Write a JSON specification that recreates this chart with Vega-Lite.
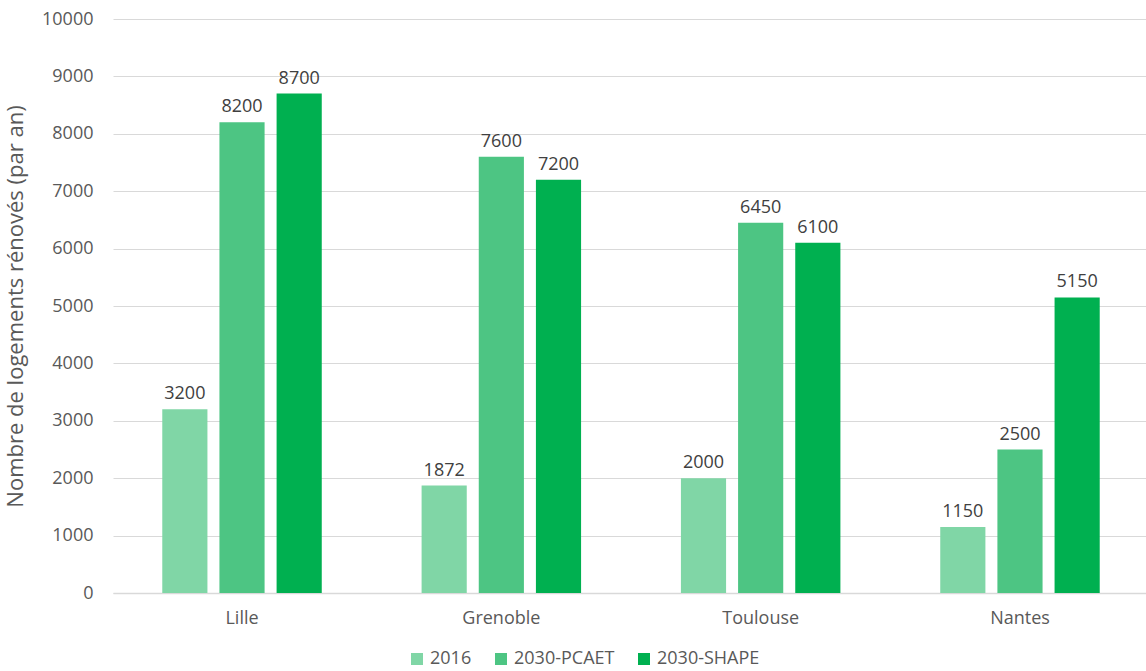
{
  "$schema": "https://vega.github.io/schema/vega-lite/v6.json",
  "autosize": "none",
  "padding": {"left": 113, "top": 19, "right": 0, "bottom": 78},
  "width": 1036,
  "height": 574,
  "background": "white",
  "config": {
    "font": "Open Sans",
    "view": {"stroke": null}
  },
  "data": {
    "values": [
      {"ville": "Lille", "serie": "2016", "valeur": 3200},
      {"ville": "Lille", "serie": "2030-PCAET", "valeur": 8200},
      {"ville": "Lille", "serie": "2030-SHAPE", "valeur": 8700},
      {"ville": "Grenoble", "serie": "2016", "valeur": 1872},
      {"ville": "Grenoble", "serie": "2030-PCAET", "valeur": 7600},
      {"ville": "Grenoble", "serie": "2030-SHAPE", "valeur": 7200},
      {"ville": "Toulouse", "serie": "2016", "valeur": 2000},
      {"ville": "Toulouse", "serie": "2030-PCAET", "valeur": 6450},
      {"ville": "Toulouse", "serie": "2030-SHAPE", "valeur": 6100},
      {"ville": "Nantes", "serie": "2016", "valeur": 1150},
      {"ville": "Nantes", "serie": "2030-PCAET", "valeur": 2500},
      {"ville": "Nantes", "serie": "2030-SHAPE", "valeur": 5150}
    ]
  },
  "encoding": {
    "x": {
      "field": "ville", "type": "nominal", "sort": ["Lille", "Grenoble", "Toulouse", "Nantes"],
      "scale": {"paddingInner": 0.385, "paddingOuter": 0.19},
      "axis": {"title": null, "labelAngle": 0, "labelFontSize": 18, "labelColor": "#595959", "ticks": false, "domainColor": "#d9d9d9", "domainWidth": 1.5, "labelPadding": 16}
    },
    "xOffset": {"field": "serie", "type": "nominal", "scale": {"paddingInner": 0.21, "paddingOuter": 0}},
    "y": {
      "field": "valeur", "type": "quantitative",
      "scale": {"domain": [0, 10000]},
      "axis": {"title": "Nombre de logements rénovés (par an)", "titleFontSize": 22, "titleFontWeight": "normal", "titleColor": "#595959", "titlePadding": 14, "tickCount": 10, "format": "d", "labelFontSize": 18, "labelColor": "#595959", "ticks": false, "domain": false, "gridColor": "#d9d9d9", "gridWidth": 1.2, "labelPadding": 20}
    }
  },
  "layer": [
    {
      "mark": {"type": "bar"},
      "encoding": {
        "color": {
          "field": "serie", "type": "nominal",
          "scale": {"domain": ["2016", "2030-PCAET", "2030-SHAPE"], "range": ["#80d6a6", "#4dc583", "#00b050"]},
          "legend": {"title": null, "orient": "none", "legendX": 295, "legendY": 631, "direction": "horizontal", "symbolType": "square", "symbolSize": 144, "symbolStrokeWidth": 0, "labelFontSize": 18, "labelColor": "#595959", "labelOffset": 4, "columnPadding": 20}
        }
      }
    },
    {
      "mark": {"type": "text", "baseline": "bottom", "dy": -6, "fontSize": 18, "color": "#404040"},
      "encoding": {"text": {"field": "valeur", "type": "quantitative", "format": "d"}}
    }
  ]
}
